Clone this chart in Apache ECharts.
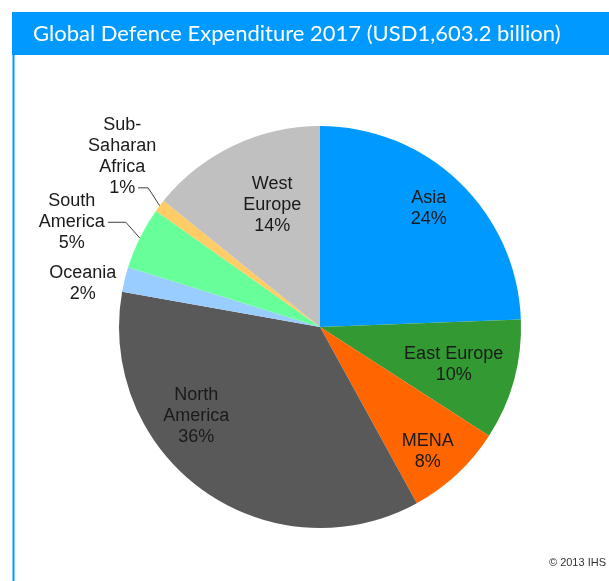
<!DOCTYPE html>
<html>
<head>
<meta charset="utf-8">
<script src="https://cdn.jsdelivr.net/npm/echarts@6/dist/echarts.min.js"></script>
<style>
  html, body { margin: 0; padding: 0; background: #ffffff; }
  #chart { width: 609px; height: 581px; }
</style>
</head>
<body>
<div id="chart"></div>
<script>
// Regional shares of global defence spending, 2017 (percent)
const regions = ['Asia', 'East Europe', 'MENA', 'North\nAmerica', 'Oceania', 'South\nAmerica', 'Sub-\nSaharan\nAfrica', 'West\nEurope'];
const shares = [24.4, 9.7, 7.9, 35.8, 2.0, 5.0, 1.0, 14.2];
const sliceColors = ['#0099FF', '#339933', '#FF6600', '#595959', '#99CCFF', '#66FF99', '#FFCC66', '#C0C0C0'];

// Label placement: angular nudge from each slice's bisector (degrees) and
// distance from the centre as a fraction of the radius.
const labelTurn = [-1.4, 0.2, 2.2, 18.5, -3.3, -3.4, 3.7, 4.1];
const labelDist = [0.80, 0.69, 0.82, 0.76, 1.20, 1.34, 1.30, 0.65];
// Leader lines: the text row they attach to and their horizontal run.
const leaders = [null, null, null, null, null, { row: 1, run: 18 }, { row: 3, run: 10 }, null];

const CX = 320, CY = 327, R = 201;
const FONT = '"Liberation Sans", Arial, sans-serif';
const FONT_SIZE = 18, LINE_H = 21;

const total = shares.reduce((a, b) => a + b, 0);
const midAngle = [];
let acc = 0;
shares.forEach(v => { midAngle.push((acc + v / 2) / total * 360); acc += v; });

function polar(deg, dist) {
  const a = deg * Math.PI / 180;
  return [CX + dist * Math.sin(a), CY - dist * Math.cos(a)];
}

const measure = document.createElement('canvas').getContext('2d');
measure.font = FONT_SIZE + 'px ' + FONT;

function labelText(name, percent) {
  return name + '\n' + Math.round(percent) + '%';
}

const chart = echarts.init(document.getElementById('chart'), null, { renderer: 'canvas' });

chart.setOption({
  backgroundColor: '#ffffff',
  animation: false,
  title: [
    {
      text: 'Global Defence Expenditure 2017 (USD1,603.2 billion)',
      left: 33,
      top: 22,
      padding: 0,
      textStyle: { color: '#ffffff', fontFamily: 'Lato, "Open Sans", sans-serif', fontSize: 22, fontWeight: 'normal', lineHeight: 24 }
    },
    {
      text: '© 2013 IHS',
      right: 3,
      top: 557,
      padding: 0,
      textStyle: { color: '#333333', fontFamily: FONT, fontSize: 11, fontWeight: 'normal' }
    }
  ],
  graphic: [
    { type: 'rect', z: -10, shape: { x: 12, y: 12, width: 597, height: 43 }, style: { fill: '#0099FF' } },
    { type: 'line', z: -10, shape: { x1: 13.5, y1: 12, x2: 13.5, y2: 581 }, style: { stroke: '#0099FF', lineWidth: 2 } }
  ],
  series: [
    {
      type: 'pie',
      center: [CX, CY],
      radius: R,
      startAngle: 90,
      clockwise: true,
      avoidLabelOverlap: false,
      emphasis: { disabled: true },
      itemStyle: { borderWidth: 0 },
      data: regions.map((name, i) => ({
        name: name,
        value: shares[i],
        itemStyle: { color: sliceColors[i] },
        label: { position: labelDist[i] > 1 ? 'outside' : 'inside' },
        labelLine: { show: !!leaders[i] }
      })),
      label: {
        show: true,
        formatter: p => labelText(p.name, p.percent),
        fontFamily: FONT,
        fontSize: FONT_SIZE,
        lineHeight: LINE_H,
        color: '#1a1a1a',
        align: 'center'
      },
      labelLine: { smooth: false, lineStyle: { color: '#404040', width: 1 } },
      labelLayout: function (params) {
        const i = params.dataIndex;
        const pos = polar(midAngle[i] + labelTurn[i], labelDist[i] * R);
        const out = { x: pos[0], y: pos[1], align: 'center', verticalAlign: 'middle' };
        const ld = leaders[i];
        if (ld) {
          const pct = shares[i] / total * 100;
          const lines = labelText(regions[i], pct).split('\n');
          const w = measure.measureText(lines[ld.row]).width;
          const ax = pos[0] + w / 2 + 3;
          const ay = pos[1] + (ld.row - (lines.length - 1) / 2) * LINE_H;
          const edge = polar(midAngle[i], R);
          out.labelLinePoints = [edge, [ax + ld.run, ay], [ax, ay]];
        }
        return out;
      }
    }
  ]
});
</script>
</body>
</html>
